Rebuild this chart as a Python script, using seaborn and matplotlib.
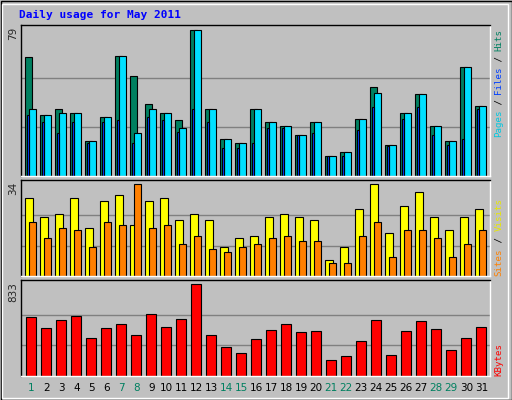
import matplotlib
matplotlib.use("Agg")
import matplotlib.pyplot as plt
import seaborn as sns
import numpy as np
from matplotlib.patches import Rectangle

sns.set_style("white")
plt.rcParams['font.family'] = ['DejaVu Sans Mono', 'DejaVu Sans']

days = list(range(1, 32))
hits = [64,33,36,34,19,32,65,54,39,34,30,79,36,20,18,36,29,27,22,29,11,13,31,48,17,34,44,27,19,59,38]
files = [36,33,34,34,19,32,65,23,36,34,26,79,36,20,18,36,29,27,22,29,11,13,31,45,17,34,44,27,19,59,38]
pages = [33,29,23,29,18,29,30,18,32,30,24,36,29,15,15,18,26,26,22,23,11,11,25,37,16,31,37,22,17,20,36]
visits = [29,22,23,29,18,28,30,19,28,29,21,23,21,11,14,15,22,23,22,21,6,11,25,34,16,26,31,22,17,22,25]
sites = [20,14,18,17,11,20,19,34,18,19,12,15,10,9,11,12,14,15,13,13,5,5,15,20,7,17,17,14,7,12,17]
kbytes = [532,432,505,541,340,432,468,368,559,441,514,833,368,258,204,331,413,468,395,404,140,176,313,505,185,404,495,423,231,340,441]
weekends = [1,7,8,14,15,21,22,28,29]
title = "Daily usage for May 2011"

BG = "#c0c0c0"
fig = plt.figure(figsize=(5.12, 4.0), dpi=100, facecolor=BG)
W, H = 512, 400

def pax(top, bot):
    ax = fig.add_axes([20.7/W, 1-bot/H, 469.3/W, (bot-top)/H])
    ax.set_facecolor(BG)
    ax.set_xlim(0.327, 31.61)
    ax.set_xticks([]); ax.set_yticks([])
    for s in ['left', 'top']:
        ax.spines[s].set_color('black')
    for s in ['right', 'bottom']:
        ax.spines[s].set_color('white')
    for sp in ax.spines.values():
        sp.set_linewidth(1)
    return ax

x = np.array(days, dtype=float)
ek = dict(edgecolor='black', linewidth=0.8, align='edge')

ax1 = pax(25, 176)
ax1.set_ylim(0, 81.5)
for g in (79/3, 79*2/3):
    ax1.axhline(g, color='#808080', lw=1, zorder=0)
ax1.bar(x-0.37, hits, width=0.47, color='#008060', **ek)
ax1.bar(x-0.10, files, width=0.47, color='#00e0ff', **ek)
ax1.bar(x-0.27, pages, width=0.17, color='#0040ff', **ek)

ax2 = pax(180.3, 276.3)
ax2.set_ylim(0, 35.5)
for g in (34/3, 34*2/3):
    ax2.axhline(g, color='#808080', lw=1, zorder=0)
ax2.bar(x-0.37, visits, width=0.54, color='#ffff00', **ek)
ax2.bar(x-0.10, sites, width=0.47, color='#ff8000', **ek)

ax3 = pax(280.3, 375.7)
ax3.set_ylim(0, 869)
for g in (833/3, 833*2/3):
    ax3.axhline(g, color='#808080', lw=1, zorder=0)
ax3.bar(x-0.30, kbytes, width=0.67, color='#ff0000', **ek)

for d in days:
    ax3.text(d+0.03, -0.13, str(d), transform=ax3.get_xaxis_transform(), ha='center', va='center',
             fontsize=7.5, color='#008060' if d in weekends else 'black', family='DejaVu Sans')

def ytxt(y_px, s):
    fig.text(13/W, 1-y_px/H, s, rotation=90, ha='center', va='top', fontsize=7.5, family='DejaVu Sans')
ytxt(27, "79"); ytxt(182, "34"); ytxt(282, "833")

def rlabel(y_bottom, segs, step):
    i = 0
    for s, c in segs:
        fig.text(499/W, 1-(y_bottom - i*step)/H, s, rotation=90, rotation_mode='anchor',
                 ha='left', va='center', fontsize=6.6, color=c, family='DejaVu Sans Mono')
        i += len(s)
rlabel(137, [("Pages", "#00c8e0"), (" / ", "black"), ("Files", "#0040ff"), (" / ", "black"), ("Hits", "#008060")], 5.4)
rlabel(276, [("Sites", "#ff8000"), (" / ", "black"), ("Visits", "#e8e800")], 5.6)
rlabel(376, [("KBytes", "#ff0000")], 5.8)

fig.text(19/W, 1-15/H, title, ha='left', va='center', fontsize=8, fontweight='bold',
         color='#0000ff', family='DejaVu Sans Mono')

fig.patches.append(Rectangle((0.5/W, 0.5/H), 1-1/W, 1-1/H, transform=fig.transFigure,
                             fill=False, edgecolor='black', lw=1))
fig.patches.append(Rectangle((2/W, 2/H), 1-6/W, 1-6/H, transform=fig.transFigure,
                             fill=False, edgecolor='white', lw=1))
fig.savefig("out.png", dpi=100, facecolor=BG)
